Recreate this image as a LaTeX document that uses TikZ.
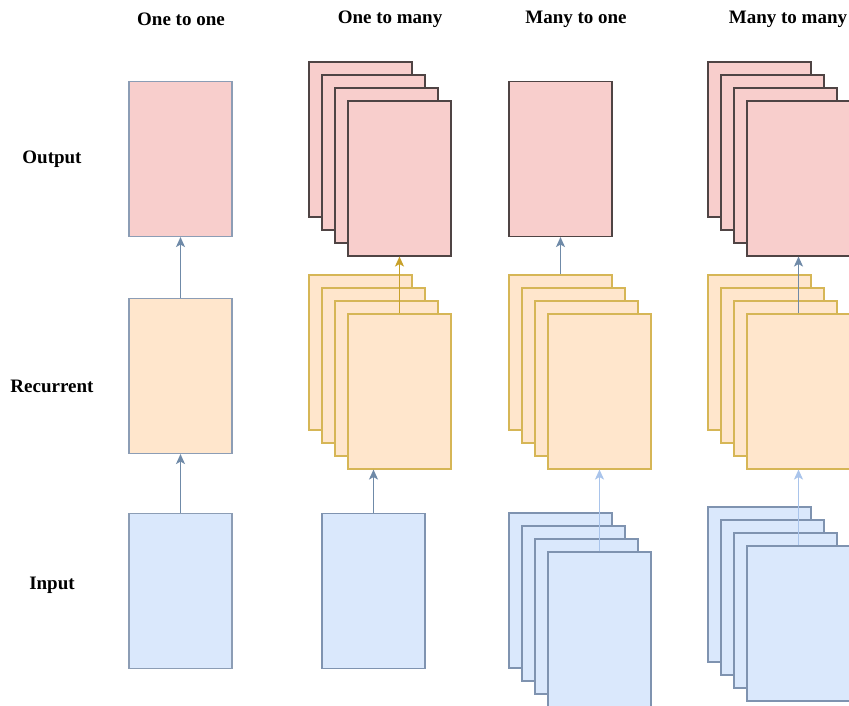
\documentclass[tikz,border=0pt]{standalone}
\usepackage{fontspec}
\setmainfont{Liberation Serif}
\usepackage{tikz}
\usetikzlibrary{arrows.meta, positioning, calc}
\definecolor{outfill}{HTML}{F8CECC}
\definecolor{outline}{HTML}{4F4444}
\definecolor{recfill}{HTML}{FFE6CC}
\definecolor{recline}{HTML}{D6B656}
\definecolor{infill}{HTML}{DAE8FC}
\definecolor{inline}{HTML}{7F93B0}
\definecolor{plainline}{HTML}{8C9DB5}
\definecolor{darkarrow}{HTML}{6F8AA8}
\definecolor{goldarrow}{HTML}{C8A12A}
\definecolor{lightarrow}{HTML}{A9C4EB}
\tikzset{
    box/.style={draw, rectangle, minimum width=103pt, minimum height=155pt, inner sep=0pt, line width=1.1pt},
    outbox/.style={box, fill=outfill, draw=outline},
    recbox/.style={box, fill=recfill, draw=recline},
    inbox/.style={box, fill=infill, draw=inline},
    title/.style={font=\fontsize{19}{22}\selectfont\bfseries},
    arrow/.style={-{Stealth[length=10pt, width=9pt, inset=2.5pt]}, line width=1.3pt, draw=darkarrow}
}

\begin{document}
\begin{tikzpicture}[x=1pt, y=-1pt]
        \clip (0,0) rectangle (849,705);
        \fill[white] (0,0) rectangle (849,705);

        % Column titles
        \node[title] (t1) at (181,19) {One to one};
        \node[title] (t2) at (390,19) {One to many};
        \node[title] (t3) at (576,19) {Many to one};
        \node[title] (t4) at (788,19) {Many to many};

        % Row labels
        \node[title] (lout) at (52,159) {Output};
        \node[title] (lrec) at (52,386) {Recurrent};
        \node[title] (lin) at (52,585) {Input};

        % One to one
        \node[outbox, draw=plainline] (o1) at (180.5,159) {};
        \node[recbox, draw=plainline] (r1) at (180.5,376) {};
        \node[inbox, draw=plainline] (i1) at (180.5,591) {};

        % One to many
        \foreach \k in {0,...,3} {
            \node[outbox] (o2-\k) at (360.5+13*\k,139.5+13*\k) {};
            \node[recbox] (r2-\k) at (360.5+13*\k,352.5+13*\k) {};
        }
        \node[inbox] (i2) at (373.5,591) {};

        % Many to one
        \node[outbox] (o3) at (560.5,159) {};
        \foreach \k in {0,...,3} {
            \node[recbox] (r3-\k) at (560.5+13*\k,352.5+13*\k) {};
            \node[inbox] (i3-\k) at (560.5+13*\k,590.5+13*\k) {};
        }

        % Many to many
        \foreach \k in {0,...,3} {
            \node[outbox] (o4-\k) at (759.5+13*\k,139.5+13*\k) {};
            \node[recbox] (r4-\k) at (759.5+13*\k,352.5+13*\k) {};
            \node[inbox] (i4-\k) at (759.5+13*\k,584.5+13*\k) {};
        }

        % Connections
        \draw[arrow] (r1.north) -- (o1.south);
        \draw[arrow] (i1.north) -- (r1.south);
        \draw[arrow] (i2.north) -- (i2.north |- r2-3.south);
        \draw[arrow, draw=goldarrow] (r2-3.north) -- (o2-3.south);
        \draw[arrow] (r3-0.north) -- (o3.south);
        \draw[arrow, draw=lightarrow] (i3-3.north) -- (r3-3.south);
        \draw[arrow] (r4-3.north) -- (o4-3.south);
        \draw[arrow, draw=lightarrow] (i4-3.north) -- (r4-3.south);
\end{tikzpicture}
\end{document}
